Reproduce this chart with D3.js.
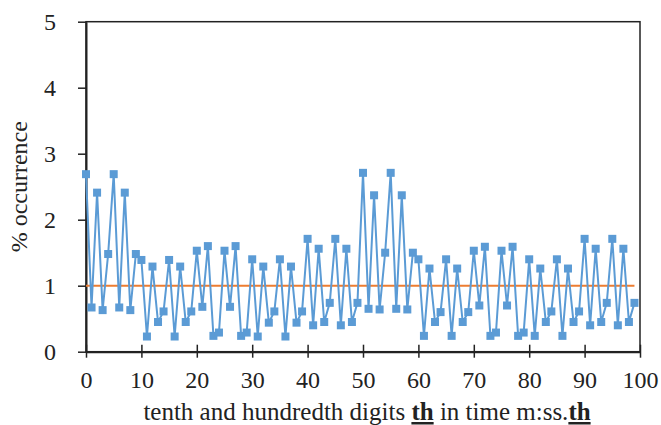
<!DOCTYPE html>
<html>
<head>
<meta charset="utf-8">
<script src="https://cdn.jsdelivr.net/npm/d3@7"></script>
<style>
  body { margin: 0; background: #fff; }
  svg text { font-family: 'Liberation Serif', 'Times New Roman', serif !important; }
</style>
</head>
<body>
<div id="chart"></div>
<script>
// % occurrence of each two-digit ending (00..99)
const digits = d3.range(0, 100);
const occurrence = [
  2.69, 0.67, 2.41, 0.63, 1.48, 2.69, 0.67, 2.41, 0.63, 1.48,
  1.39, 0.23, 1.29, 0.45, 0.61, 1.39, 0.23, 1.29, 0.45, 0.61,
  1.53, 0.68, 1.60, 0.24, 0.29, 1.53, 0.68, 1.60, 0.24, 0.29,
  1.40, 0.23, 1.29, 0.44, 0.61, 1.40, 0.23, 1.29, 0.44, 0.61,
  1.71, 0.40, 1.56, 0.45, 0.74, 1.71, 0.40, 1.56, 0.45, 0.74,
  2.71, 0.65, 2.37, 0.64, 1.50, 2.71, 0.65, 2.37, 0.64, 1.50,
  1.40, 0.24, 1.26, 0.45, 0.60, 1.40, 0.24, 1.26, 0.45, 0.60,
  1.53, 0.70, 1.59, 0.24, 0.29, 1.53, 0.70, 1.59, 0.24, 0.29,
  1.40, 0.24, 1.26, 0.45, 0.61, 1.40, 0.24, 1.26, 0.45, 0.61,
  1.71, 0.40, 1.56, 0.45, 0.74, 1.71, 0.40, 1.56, 0.45, 0.74
];
const expected = [1, 1];        // uniform expectation line
const expectedX = [0, 99];
const xTicks = [0, 10, 20, 30, 40, 50, 60, 70, 80, 90, 100];
const yTicks = [0, 1, 2, 3, 4, 5];

const w = 661, h = 425;
const padL = 86, padR = 640, padT = 21.7, padB = 351.7;
const serif = "Liberation Serif";

const svg = d3.select("#chart").append("svg")
  .attr("width", w).attr("height", h)
  .attr("font-family", serif);

const x = d3.scaleLinear().domain([0, 100]).range([padL, padR]);
const y = d3.scaleLinear().domain([0, 5]).range([padB, padT]);

// frame
svg.append("rect")
  .attr("x", padL).attr("y", padT)
  .attr("width", padR - padL).attr("height", padB - padT)
  .attr("fill", "none").attr("stroke", "#222").attr("stroke-width", 1.5);

// axes
const xAxis = d3.axisBottom(x).tickValues(xTicks).tickFormat(d3.format("d"))
  .tickSizeInner(6).tickSizeOuter(0).tickPadding(13);
const gx = svg.append("g").attr("transform", "translate(0," + padB + ")").call(xAxis);
gx.attr("font-family", serif);
gx.select(".domain").attr("stroke", "#222").attr("stroke-width", 2);
gx.selectAll(".tick line").attr("y1", -7).attr("y2", 6).attr("stroke", "#222").attr("stroke-width", 1.5);
gx.selectAll("text").attr("font-size", 24).attr("fill", "#222").attr("font-family", serif);

const yAxis = d3.axisLeft(y).tickValues(yTicks).tickFormat(d3.format("d"))
  .tickSizeInner(8).tickSizeOuter(0).tickPadding(22);
const gy = svg.append("g").attr("transform", "translate(" + padL + ",0)").call(yAxis);
gy.attr("font-family", serif);
gy.select(".domain").attr("stroke", "#222").attr("stroke-width", 2);
gy.selectAll(".tick line").attr("stroke", "#222").attr("stroke-width", 1.5);
gy.selectAll("text").attr("font-size", 24).attr("fill", "#222").attr("dy", "0.33em")
  .attr("font-family", serif);

// expected line
svg.append("path")
  .datum(expectedX.map((d, i) => [d, expected[i]]))
  .attr("d", d3.line().x(d => x(d[0])).y(d => y(d[1])))
  .attr("fill", "none").attr("stroke", "#ed7d31").attr("stroke-width", 2);

// observed series
const pts = digits.map((d, i) => [d, occurrence[i]]);
svg.append("path")
  .datum(pts)
  .attr("d", d3.line().x(d => x(d[0])).y(d => y(d[1])))
  .attr("fill", "none").attr("stroke", "#5b9bd5").attr("stroke-width", 2);

const ms = 8;
svg.selectAll("rect.pt").data(pts).enter().append("rect")
  .attr("class", "pt")
  .attr("x", d => x(d[0]) - ms / 2).attr("y", d => y(d[1]) - ms / 2)
  .attr("width", ms).attr("height", ms)
  .attr("fill", "#5b9bd5");

// y title
svg.append("text")
  .attr("transform", "translate(27," + (padT + padB) / 2 + ") rotate(-90)")
  .attr("text-anchor", "middle")
  .attr("font-size", 24).attr("fill", "#222").attr("font-family", serif)
  .text("% occurrence");

// x title
const xt = svg.append("text")
  .attr("x", (padL + padR) / 2 + 4).attr("y", 420)
  .attr("text-anchor", "middle")
  .attr("font-size", 25).attr("fill", "#222").attr("font-family", serif);
xt.append("tspan").text("tenth and hundredth digits ");
xt.append("tspan").attr("font-weight", "bold").attr("text-decoration", "underline").text("th");
xt.append("tspan").text(" in time m:ss.");
xt.append("tspan").attr("font-weight", "bold").attr("text-decoration", "underline").text("th");
</script>
</body>
</html>
